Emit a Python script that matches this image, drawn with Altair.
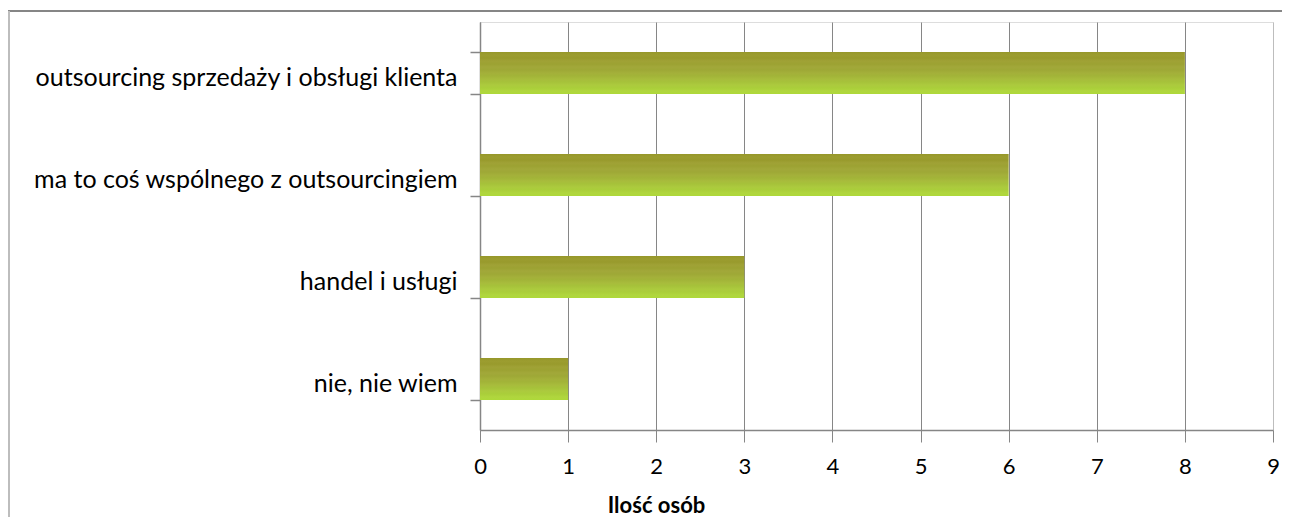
import altair as alt
import pandas as pd

categories = [
    "outsourcing sprzedaży i obsługi klienta",
    "ma to coś wspólnego z outsourcingiem",
    "handel i usługi",
    "nie, nie wiem",
]
values = [8, 6, 3, 1]
x_ticks = list(range(10))

df = pd.DataFrame({"kategoria": categories, "wartosc": values})

FONT = "Lato"
GRID = "#868686"

stripe_colors = [
    "#96972a", "#9c9d30", "#989a2c", "#a0a236", "#9ca232", "#a2a83a",
    "#9ea836", "#a4b03a", "#a2b438", "#a8bc3c", "#a6c23a", "#acca3e",
    "#aace3a", "#b0d63e", "#aed83a",
]
stops = [
    alt.GradientStop(color=c, offset=i / (len(stripe_colors) - 1))
    for i, c in enumerate(stripe_colors)
]
gradient = alt.Gradient(gradient="linear", x1=0, y1=0, x2=0, y2=1, stops=stops)

bars = alt.Chart(df).mark_bar(color=gradient, cornerRadius=0).encode(
    x=alt.X(
        "wartosc:Q",
        scale=alt.Scale(domain=[0, 9], nice=False),
        axis=alt.Axis(
            values=x_ticks,
            title="Ilość osób",
            titleFont=FONT,
            titleFontSize=22,
            titleFontWeight="bold",
            titleColor="#000000",
            titleX=176,
            titleY=82,
            titleBaseline="alphabetic",
            titleAlign="center",
            labelFont=FONT,
            labelFontSize=22,
            labelColor="#000000",
            labelPadding=14,
            labelFlush=False,
            tickSize=12,
            tickColor=GRID,
            domainColor=GRID,
            domainWidth=1.5,
            grid=True,
            gridColor={"condition": {"test": "datum.value == 9", "value": "#bdbdbd"}, "value": GRID},
            gridWidth=1,
        ),
    ),
    y=alt.Y(
        "kategoria:N",
        sort=categories,
        scale=alt.Scale(paddingInner=0.59, paddingOuter=0.295),
        axis=alt.Axis(
            title=None,
            labelFont=FONT,
            labelFontSize=25,
            labelColor="#000000",
            labelPadding=13,
            labelOffset=4,
            labelLimit=0,
            tickSize=10,
            tickColor=GRID,
            tickWidth=1.5,
            tickBand="extent",
            domainColor=GRID,
            domainWidth=1.5,
            grid=False,
        ),
    ),
)

border_top = alt.Chart(df).mark_rule(color="#868686", strokeWidth=1.5, clip=False).encode(
    x=alt.value(-472), x2=alt.value(802), y=alt.value(-11)
)
border_left = alt.Chart(df).mark_rule(color="#bdbdbd", strokeWidth=2, clip=False).encode(
    x=alt.value(-471), y=alt.value(-11), y2=alt.value(500)
)

chart = alt.layer(bars, border_top, border_left).properties(
    width=793,
    height=408,
    padding={"left": 472, "top": 14, "right": 9, "bottom": 87},
    autosize=alt.AutoSizeParams(type="none"),
).configure_view(stroke=None).configure(background="white")

chart.save("out.html", embed_options={"renderer": "svg", "actions": False})
